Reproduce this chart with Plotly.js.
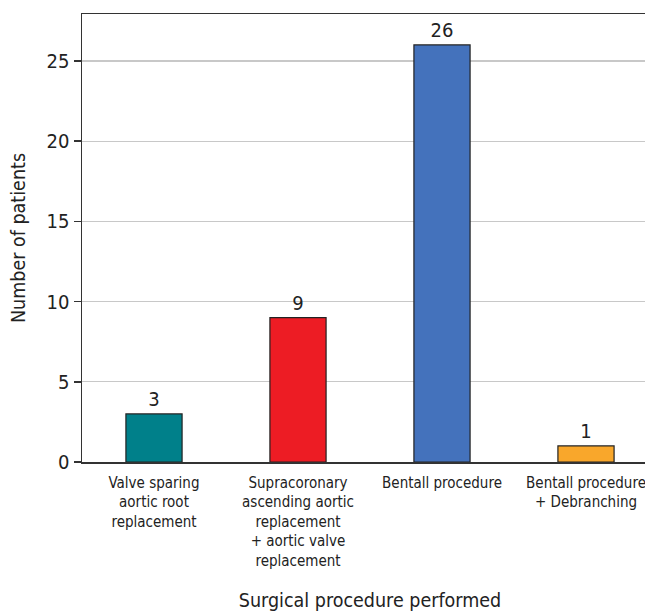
<!DOCTYPE html>
<html><head><meta charset="utf-8">
<script src="https://cdn.plot.ly/plotly-3.0.1.min.js"></script>
<style>html,body{margin:0;padding:0;overflow:hidden;background:#fff}</style>
</head><body>
<div id="chart" style="width:661px;height:615px"></div>
<script>
const categories = ["Valve sparing<br>aortic root<br>replacement", "Supracoronary<br>ascending aortic<br>replacement<br>+ aortic valve<br>replacement", "Bentall procedure", "Bentall procedure<br>+ Debranching"];
const patients = [3, 9, 26, 1];
const barColors = ["#00808A", "#ED1C24", "#4472BC", "#F9A72B"];
const yTicks = [0, 5, 10, 15, 20, 25];
const FONT = "'Liberation Sans Narrow', 'Arial Narrow', 'DejaVu Sans Condensed', sans-serif";

Plotly.newPlot("chart", [{
  type: "bar",
  x: categories,
  y: patients,
  width: 0.39,
  marker: {color: barColors, line: {color: "#222", width: 1.2}},
  text: patients.map(String),
  textposition: "outside",
  cliponaxis: false,
  textfont: {family: FONT, size: 20, color: "#222"},
  hoverinfo: "none"
}], {
  width: 661, height: 615,
  margin: {l: 82, r: 3, t: 14, b: 153},
  paper_bgcolor: "#fff", plot_bgcolor: "#fff",
  showlegend: false,
  font: {family: FONT, color: "#222"},
  xaxis: {
    range: [-0.5, 3.5],
    showline: true, linecolor: "#333", linewidth: 1.5, mirror: true,
    ticks: "", showgrid: false,
    ticklabelstandoff: 6,
    tickfont: {family: FONT, size: 15, color: "#222"},
    title: {text: "Surgical procedure performed", font: {family: FONT, size: 19.5, color: "#222"}, standoff: 25}
  },
  yaxis: {
    range: [0, 27.93],
    tickvals: yTicks,
    showline: true, linecolor: "#333", linewidth: 1.5,
    ticks: "outside", ticklen: 7, tickcolor: "#333", tickwidth: 1.5,
    showgrid: true, gridcolor: "#C8C8C8", gridwidth: 1.2,
    zeroline: false,
    tickfont: {family: FONT, size: 20, color: "#222"},
    title: {text: "Number of patients", font: {family: FONT, size: 19.5, color: "#222"}, standoff: 16}
  },
  bargap: 0.61
}, {displayModeBar: false, staticPlot: true});
</script>
</body></html>
